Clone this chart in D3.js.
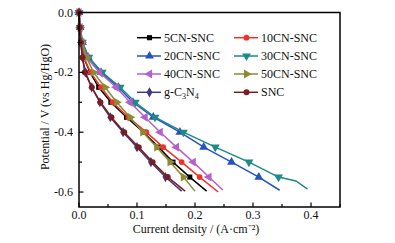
<html>
<head>
  <style>
    body{margin:0;background:#fff}
    .lsv text{font-family:'Liberation Serif','Times New Roman',serif;font-size:12px;fill:#111}
    .lsv .frame{fill:none;stroke:#000;stroke-width:1.5px}
    .lsv .tick{stroke:#000;stroke-width:1.2px}
    .lsv .curve{fill:none;stroke-width:1.5px}
  </style>
</head>

<body>
<div id="lsv"></div>
<script src="https://d3js.org/d3.v7.min.js"></script>

<script>

// potentials (V vs Hg/HgO) where markers sit
var potentials = [0, -0.05, -0.1, -0.15, -0.2, -0.25, -0.3, -0.35, -0.4, -0.45, -0.5, -0.55];

var seriesNames = ['5CN-SNC', '10CN-SNC', '20CN-SNC', '30CN-SNC', '40CN-SNC', '50CN-SNC', 'g-C3N4', 'SNC'];

// current density (A/cm2) at each potential above
var cur5CN  = [0, 0.002, 0.004, 0.008, 0.019, 0.034, 0.055, 0.082, 0.111, 0.137, 0.162, 0.191];
var cur10CN = [0, 0.002, 0.004, 0.008, 0.020, 0.038, 0.058, 0.085, 0.116, 0.145, 0.177, 0.208];
var cur20CN = [0, 0.002, 0.006, 0.016, 0.038, 0.068, 0.093, 0.128, 0.174, 0.215, 0.263, 0.310];
var cur30CN = [0, 0.002, 0.006, 0.017, 0.040, 0.071, 0.097, 0.131, 0.180, 0.235, 0.293, 0.344];
var cur40CN = [0, 0.002, 0.005, 0.013, 0.035, 0.064, 0.088, 0.114, 0.140, 0.168, 0.197, 0.224];
var cur50CN = [0, 0.002, 0.005, 0.013, 0.025, 0.045, 0.065, 0.088, 0.110, 0.134, 0.157, 0.180];
var curCN   = [0, 0.001, 0.003, 0.006, 0.011, 0.022, 0.036, 0.054, 0.076, 0.100, 0.124, 0.149];
var curSNC  = [0, 0.001, 0.003, 0.006, 0.010, 0.022, 0.037, 0.056, 0.078, 0.103, 0.127, 0.153];

// end of each sweep (no markers) : [current, potential]
var tail5CN  = [[0.220, -0.597]];
var tail10CN = [[0.240, -0.600]];
var tail20CN = [[0.346, -0.594]];
var tail30CN = [[0.374, -0.563], [0.394, -0.590]];
var tail40CN = [[0.248, -0.593]];
var tail50CN = [[0.200, -0.597]];
var tailCN   = [[0.177, -0.597]];
var tailSNC  = [[0.183, -0.597]];

var xTicks = [0, 0.1, 0.2, 0.3, 0.4];
var yTicks = [0, -0.2, -0.4, -0.6];

(function () {

  var
    width  = 395,
    height = 243,
    left   = 79,
    right  = 340,
    top    = 12.5,
    bottom = 207,
    xScale = d3.scaleLinear().domain([0, 0.45]).range([left, right]),
    yScale = d3.scaleLinear().domain([0, -0.65]).range([top, bottom]),
    vis    = d3.select('#lsv').append('svg')
      .attr('class', 'lsv')
      .attr('width', width)
      .attr('height', height);

  var series = [
    {name: seriesNames[0], cur: cur5CN,  tail: tail5CN,  color: '#000000', sym: d3.symbolSquare,   rot: 0,   size: 26},
    {name: seriesNames[1], cur: cur10CN, tail: tail10CN, color: '#f2302a', sym: d3.symbolCircle,   rot: 0,   size: 26},
    {name: seriesNames[2], cur: cur20CN, tail: tail20CN, color: '#2553c2', sym: d3.symbolTriangle, rot: 0,   size: 34},
    {name: seriesNames[3], cur: cur30CN, tail: tail30CN, color: '#1c8a86', sym: d3.symbolTriangle, rot: 180, size: 34},
    {name: seriesNames[4], cur: cur40CN, tail: tail40CN, color: '#b660cc', sym: d3.symbolTriangle, rot: -90, size: 34},
    {name: seriesNames[5], cur: cur50CN, tail: tail50CN, color: '#8c8a32', sym: d3.symbolTriangle, rot: 90,  size: 34},
    {name: seriesNames[6], cur: curCN,   tail: tailCN,   color: '#3b3b80', sym: d3.symbolDiamond,  rot: 0,   size: 30},
    {name: seriesNames[7], cur: curSNC,  tail: tailSNC,  color: '#7c1c20', sym: d3.symbolCircle,   rot: 0,   size: 28}
  ];

  var line = d3.line()
    .x(function (d) { return xScale(d[0]); })
    .y(function (d) { return yScale(d[1]); });

  // curves
  series.forEach(function (s) {
    var pts = s.cur.map(function (c, i) { return [c, potentials[i]]; });
    var g = vis.append('g');

    g.append('path')
      .attr('class', 'curve')
      .attr('d', line(pts.concat(s.tail)))
      .style('stroke', s.color);

    g.selectAll('path.mk')
      .data(pts)
      .enter().append('path')
      .attr('class', 'mk')
      .attr('d', d3.symbol().type(s.sym).size(s.size))
      .attr('transform', function (d) {
        return 'translate(' + xScale(d[0]) + ',' + yScale(d[1]) + ') rotate(' + s.rot + ')';
      })
      .style('fill', s.color);
  });

  // frame
  vis.append('rect')
    .attr('class', 'frame')
    .attr('x', left)
    .attr('y', top)
    .attr('width', right - left)
    .attr('height', bottom - top);

  // x ticks (inward), minor every 0.05
  d3.range(0, 0.451, 0.05).forEach(function (v, i) {
    var major = i % 2 === 0;
    vis.append('line')
      .attr('class', 'tick')
      .attr('x1', xScale(v)).attr('x2', xScale(v))
      .attr('y1', bottom).attr('y2', bottom - (major ? 4.5 : 3));
  });
  vis.selectAll('text.xl')
    .data(xTicks)
    .enter().append('text')
    .attr('class', 'xl')
    .attr('x', function (d) { return xScale(d); })
    .attr('y', 219)
    .attr('text-anchor', 'middle')
    .text(function (d) { return d.toFixed(1); });

  // y ticks
  d3.range(0, 7).forEach(function (i) {
    var v = -i * 0.1, major = i % 2 === 0;
    vis.append('line')
      .attr('class', 'tick')
      .attr('x1', left).attr('x2', left + (major ? 4.5 : 3))
      .attr('y1', yScale(v)).attr('y2', yScale(v));
  });
  vis.selectAll('text.yl')
    .data(yTicks)
    .enter().append('text')
    .attr('class', 'yl')
    .attr('x', 73)
    .attr('y', function (d) { return yScale(d) + 4; })
    .attr('text-anchor', 'end')
    .text(function (d) { return d === 0 ? '0.0' : d.toFixed(1); });

  // axis titles
  vis.append('text')
    .attr('x', 196)
    .attr('y', 233)
    .attr('text-anchor', 'middle')
    .text('Current density / (A\u00b7cm\u207b\u00b2)');

  vis.append('text')
    .attr('transform', 'translate(49,107) rotate(-90)')
    .attr('text-anchor', 'middle')
    .text('Potential / V (vs Hg/HgO)');

  // legend
  var cols = [[0, 2, 4, 6], [1, 3, 5, 7]],
      colX = [137, 234],
      rowY = [37.7, 56, 74, 92.3];

  cols.forEach(function (col, c) {
    col.forEach(function (k, r) {
      var s = series[k], x0 = colX[c], y0 = rowY[r];
      vis.append('line')
        .attr('x1', x0).attr('x2', x0 + 24)
        .attr('y1', y0).attr('y2', y0)
        .style('stroke', s.color)
        .style('stroke-width', '1.5px');
      vis.append('path')
        .attr('d', d3.symbol().type(s.sym).size(s.size)())
        .attr('transform', 'translate(' + (x0 + 12.5) + ',' + y0 + ') rotate(' + s.rot + ')')
        .style('fill', s.color);
      var t = vis.append('text')
        .attr('x', x0 + 27)
        .attr('y', y0 + 4);
      if (s.name === 'g-C3N4') {
        t.append('tspan').text('g-C');
        t.append('tspan').attr('dy', 3).style('font-size', '8px').text('3');
        t.append('tspan').attr('dy', -3).text('N');
        t.append('tspan').attr('dy', 3).style('font-size', '8px').text('4');
      } else {
        t.text(s.name);
      }
    });
  });

})();
</script>

</body>
</html>
